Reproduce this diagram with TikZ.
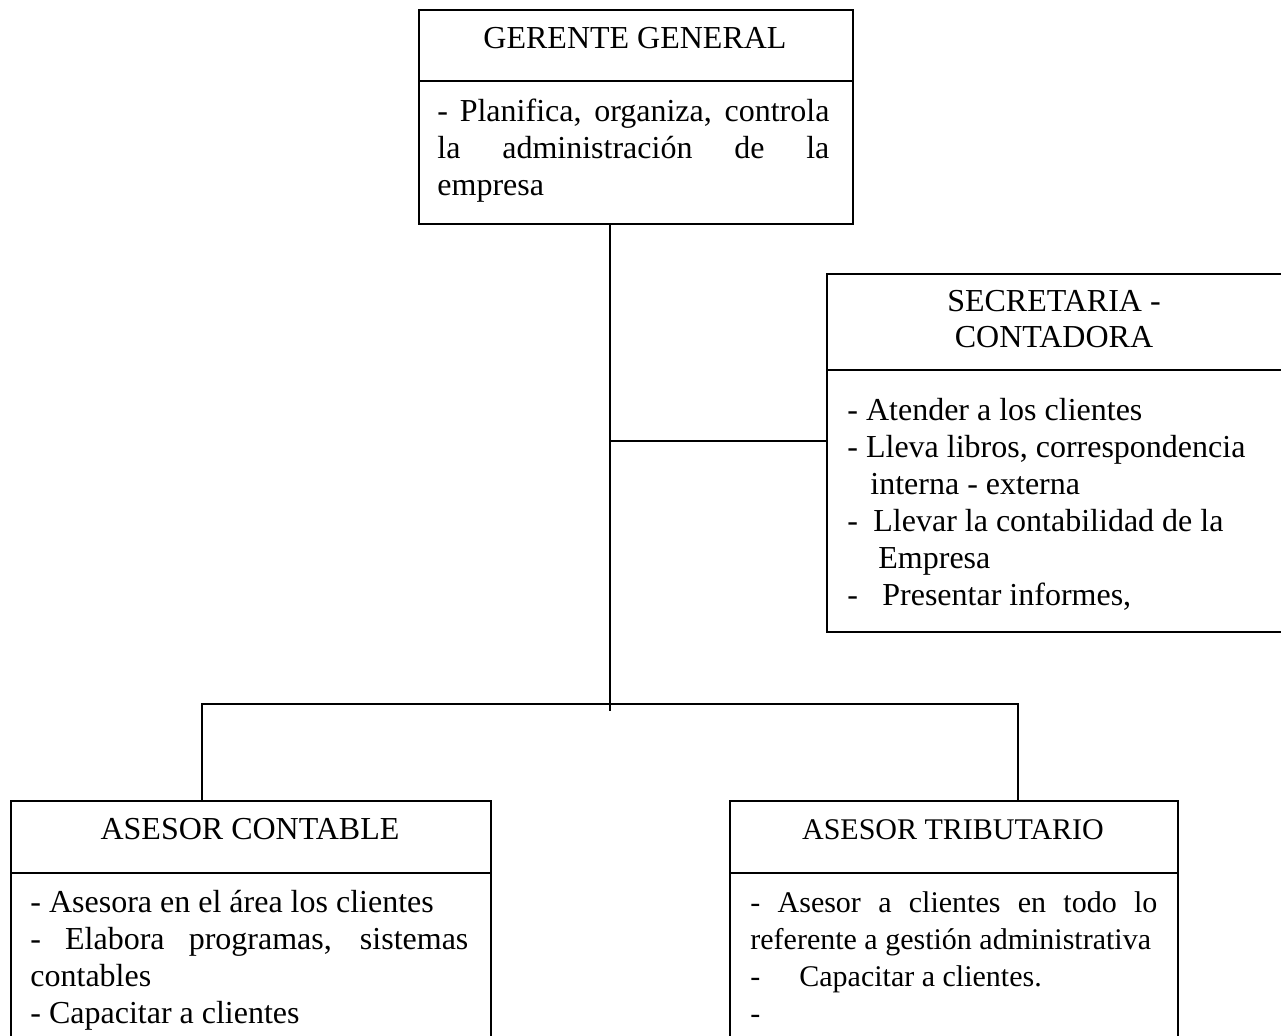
\documentclass[tikz,border=0pt]{standalone}
\usepackage{fontspec}
\setmainfont{Liberation Serif}
\newcommand\bodyfont{\fontsize{16pt}{18pt}\selectfont}
\newcommand\smallbody{\fontsize{15pt}{18pt}\selectfont}
\tikzset{
  box/.style={draw, line width=1.1pt, rectangle, inner sep=0pt, anchor=north west},
  txt/.style={inner sep=0pt, anchor=base west, font=\bodyfont},
  ttl/.style={inner sep=0pt, anchor=base, font=\bodyfont},
  stxt/.style={inner sep=0pt, anchor=base west, font=\smallbody},
  sttl/.style={inner sep=0pt, anchor=base, font=\smallbody},
  conn/.style={line width=1.1pt},
}
\begin{document}
\begin{tikzpicture}[x=0.5pt,y=-0.5pt]
\useasboundingbox (0,0) rectangle (1281,1036);
\clip (0,0) rectangle (1281,1036);
\fill[white] (0,0) rectangle (1281,1036);

% GERENTE GENERAL
\node[box, minimum width=217pt, minimum height=35.5pt] (gT) at (418,9) {};
\node[box, minimum width=217pt, minimum height=71.5pt] (gB) at (418,80) {};
\node[ttl] (gTt) at (635,49) {GERENTE GENERAL};
\node[txt] (gL1) at (437,122) {\makebox[196pt][s]{- Planifica, organiza, controla}};
\node[txt] (gL2) at (437,159) {\makebox[196pt][s]{la administración de la}};
\node[txt] (gL3) at (437,196) {empresa};

% SECRETARIA - CONTADORA
\node[box, minimum width=229pt, minimum height=48pt] (sT) at (826,273) {};
\node[box, minimum width=229pt, minimum height=131pt] (sB) at (826,369) {};
\node[ttl] (sTt1) at (1054,312) {SECRETARIA -};
\node[ttl] (sTt2) at (1054,348) {CONTADORA};
\node[txt] (sL1) at (847,421) {- Atender a los clientes};
\node[txt] (sL2) at (847,458) {- Lleva libros, correspondencia};
\node[txt] (sL3) at (870,495) {interna - externa};
\node[txt] (sL4) at (847,532) {\makebox[13pt][l]{-}Llevar la contabilidad de la};
\node[txt] (sL5) at (878,569) {Empresa};
\node[txt] (sL6) at (847,606) {\makebox[17.5pt][l]{-}Presentar informes,};

% ASESOR CONTABLE
\node[box, minimum width=240pt, minimum height=36pt] (cT) at (10,800) {};
\node[box, minimum width=240pt, minimum height=114pt] (cB) at (10,872) {};
\node[ttl] (cTt) at (250,840) {ASESOR CONTABLE};
\node[txt] (cL1) at (30,913) {- Asesora en el área los clientes};
\node[txt] (cL2) at (30,950) {\makebox[219pt][s]{- Elabora programas, sistemas}};
\node[txt] (cL3) at (30,987) {contables};
\node[txt] (cL4) at (30,1024) {- Capacitar a clientes};

% ASESOR TRIBUTARIO
\node[box, minimum width=224pt, minimum height=36pt] (tT) at (729,800) {};
\node[box, minimum width=224pt, minimum height=114pt] (tB) at (729,872) {};
\node[sttl] (tTt) at (953,840) {ASESOR TRIBUTARIO};
\node[stxt] (tL1) at (750,913) {\makebox[203.5pt][s]{- Asesor a clientes en todo lo}};
\node[stxt] (tL2) at (750,950) {referente a gestión administrativa};
\node[stxt] (tL3) at (750,987) {\makebox[24.5pt][l]{-}Capacitar a clientes.};
\node[stxt] (tL4) at (750,1024) {-};

% connectors
\coordinate (vx) at (610,0);
\coordinate (vbot) at (610,711);
\draw[conn] (gB.south -| vx) -- (vbot);
\coordinate (sj) at (610,441);
\draw[conn] (sj) -- (sj -| sB.west);
\coordinate (lj) at (202,704);
\coordinate (rj) at (1018,704);
\draw[conn] (cT.north -| lj) -- (lj) -- (rj) -- (tT.north -| rj);
\end{tikzpicture}
\end{document}
